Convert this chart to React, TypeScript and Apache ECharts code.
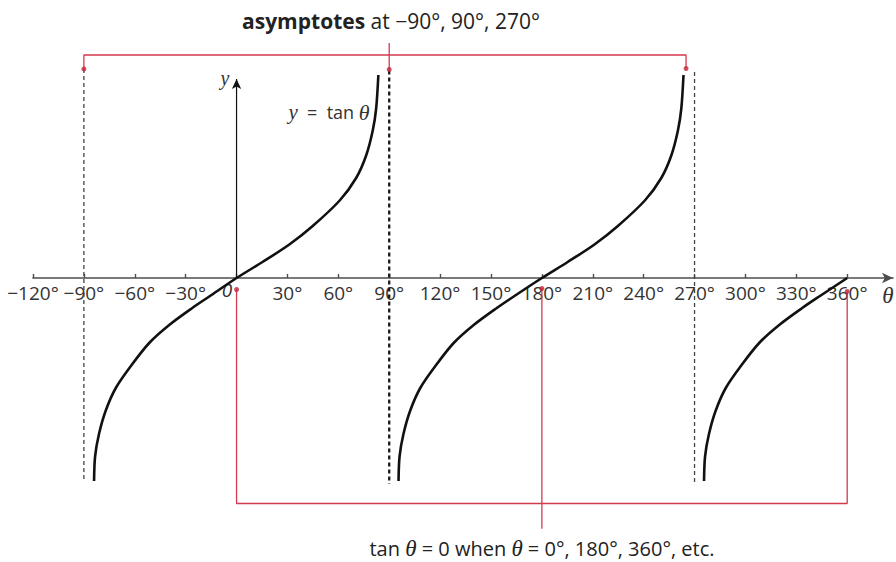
import React, { useEffect, useRef } from 'react';
import * as echarts from 'echarts';

// x axis ticks (degrees)
const tickValues = [-120, -90, -60, -30, 0, 30, 60, 90, 120, 150, 180, 210, 240, 270, 300, 330, 360];
const labelValues = [-120, -90, -60, -30, 30, 60, 90, 120, 150, 180, 210, 240, 270, 300, 330, 360];

// tan curve branches (y in drawing units)
const branch1Theta = [-84, -83.4, -81.1, -77.1, -71.2, -62.3, -51.5, -39.7, -26.1, -16.1, 0, 15.3, 31.1, 44.9, 60.8, 70.5, 76.4, 80.3, 82.3, 83.6];
const branch1Y = [-4.06, -3.57, -3.12, -2.65, -2.2, -1.76, -1.3, -0.94, -0.6, -0.37, 0, 0.32, 0.67, 1.04, 1.55, 2.0, 2.45, 2.95, 3.39, 4.06];
const branch2Theta = [95.5, 96.1, 98.4, 102.4, 108.3, 117.2, 128, 139.8, 153.4, 163.4, 180, 195.2, 211, 224.8, 240.7, 250.4, 256.3, 260.2, 262.2, 263.5];
const branch2Y = [-4.06, -3.57, -3.12, -2.65, -2.2, -1.76, -1.3, -0.94, -0.6, -0.37, 0, 0.32, 0.67, 1.04, 1.55, 2.0, 2.45, 2.95, 3.39, 4.06];
const branch3Theta = [275.6, 276.2, 278.5, 282.5, 288.4, 297.3, 308.1, 319.9, 333.5, 343.5, 360];
const branch3Y = [-4.06, -3.57, -3.12, -2.65, -2.2, -1.76, -1.3, -0.94, -0.6, -0.37, 0];

// asymptotes
const asymptoteTheta = [-90, 90, 270];
const asymptoteTop = [4.18, 4.15, 4.12];
const asymptoteBottom = [-4.08, -4.12, -4.08];

// y axis (positive half only)
const yAxisTheta = [0, 0];
const yAxisY = [0, 3.98];

// red annotation brackets
const topBracketTheta = [-90, -90, 265, 265];
const topBracketY = [4.18, 4.46, 4.46, 4.19];
const topStemTheta = [90, 90];
const topStemY = [4.7, 4.17];
const topDotsTheta = [-90, 90, 265];
const topDotsY = [4.18, 4.17, 4.19];

const bottomBracketTheta = [0, 0, 360, 360];
const bottomBracketY = [-0.23, -4.51, -4.51, -0.27];
const bottomStemTheta = [180, 180];
const bottomStemY = [-0.21, -5.09];
const bottomDotsTheta = [0, 180, 360];
const bottomDotsY = [-0.23, -0.21, -0.27];

const pairs = (xs: number[], ys: number[]) => xs.map((x, i) => [x, ys[i]]);

const SANS = '"Open Sans", "Noto Sans", sans-serif';
const SERIF = '"Liberation Serif", "DejaVu Serif", serif';
const RED = '#d43a4e';
const RED_DOT = '#c4243a';

export default function App() {
  const ref = useRef<HTMLDivElement>(null);

  useEffect(() => {
    if (!ref.current) return;
    const chart = echarts.init(ref.current, undefined, { renderer: 'svg' });

    const curveStyle = { color: '#111', width: 2.6 };
    const redLine = (name: string, xs: number[], ys: number[]) => ({
      type: 'line', name, data: pairs(xs, ys), symbol: 'none', z: 5,
      lineStyle: { color: RED, width: 1.3 }, silent: true,
    });

    const series: any[] = [];
    asymptoteTheta.forEach((t, i) => {
      series.push({
        type: 'line', name: 'asym' + i, symbol: 'none', z: 1, silent: true,
        data: [[t, asymptoteTop[i]], [t, asymptoteBottom[i]]],
        lineStyle: i === 1
          ? { color: '#1a1a1a', width: 2.3, type: [4, 3] }
          : { color: '#444', width: 1.3, type: [4, 3] },
      });
    });
    series.push({
      type: 'line', name: 'yaxis', z: 2, silent: true,
      data: [
        { value: [yAxisTheta[0], yAxisY[0]], symbol: 'none' },
        { value: [yAxisTheta[1], yAxisY[1]], symbol: 'arrow', symbolSize: [7, 10] },
      ],
      showSymbol: true,
      lineStyle: { color: '#111', width: 1.2 },
      itemStyle: { color: '#111' },
    });
    [[branch1Theta, branch1Y], [branch2Theta, branch2Y], [branch3Theta, branch3Y]].forEach((b, i) => {
      series.push({
        type: 'line', name: 'tan' + i, data: pairs(b[0], b[1]), symbol: 'none', z: 3,
        smooth: 0.3, lineStyle: curveStyle, silent: true,
      });
    });
    series.push(redLine('topBracket', topBracketTheta, topBracketY));
    series.push(redLine('topStem', topStemTheta, topStemY));
    series.push(redLine('bottomBracket', bottomBracketTheta, bottomBracketY));
    series.push(redLine('bottomStem', bottomStemTheta, bottomStemY));
    series.push({
      type: 'scatter', name: 'dots', z: 6, symbolSize: 5, silent: true,
      data: pairs(topDotsTheta, topDotsY).concat(pairs(bottomDotsTheta, bottomDotsY)),
      itemStyle: { color: RED_DOT },
    });

    chart.setOption({
      animation: false,
      backgroundColor: '#fff',
      grid: { left: 33, right: 3, top: 28, bottom: 34, containLabel: false },
      xAxis: {
        type: 'value', min: -120, max: 387, interval: 30,
        position: 'bottom', offset: -250,
        axisLine: {
          onZero: false, symbol: ['none', 'arrow'], symbolSize: [8, 11],
          lineStyle: { color: '#4d4d4d', width: 1.6 },
        },
        axisTick: { show: true, inside: true, length: 4, customValues: tickValues, lineStyle: { color: '#4d4d4d', width: 1.4 } },
        axisLabel: {
          customValues: labelValues, margin: 5, fontSize: 19, color: '#333', fontFamily: SANS,
          formatter: (v: number) => (v < 0 ? '\u2212' + Math.abs(v) : String(v)) + '\u00b0',
        },
        splitLine: { show: false },
      },
      yAxis: { type: 'value', min: -5, max: 5, show: false },
      graphic: [
        {
          type: 'text', x: 391, y: 21, z: 10,
          style: {
            text: '{b|asymptotes} at \u221290\u00b0, 90\u00b0, 270\u00b0',
            align: 'center', verticalAlign: 'middle', fontSize: 21, fontFamily: SANS, fill: '#222',
            rich: { b: { fontWeight: 'bold', fontSize: 21, fontFamily: SANS, fill: '#222' } },
          },
        },
        {
          type: 'text', x: 542, y: 548, z: 10,
          style: {
            text: '{t|tan }{th|\u03b8}{t| = 0 when }{th|\u03b8}{t| = 0\u00b0, 180\u00b0, 360\u00b0, etc.}',
            align: 'center', verticalAlign: 'middle', fontSize: 20, fontFamily: SANS, fill: '#222',
            rich: {
              t: { fontSize: 20, fontFamily: SANS, fill: '#222' },
              th: { fontSize: 23, fontFamily: SERIF, fontStyle: 'italic', fill: '#222' },
            },
          },
        },
        {
          type: 'text', x: 329, y: 112, z: 10,
          style: {
            text: '{i|y}{t|  =  tan }{th|\u03b8}',
            align: 'center', verticalAlign: 'middle', fontSize: 18, fontFamily: SANS, fill: '#333',
            rich: {
              i: { fontSize: 21, fontFamily: SERIF, fontStyle: 'italic', fill: '#333' },
              t: { fontSize: 18, fontFamily: SANS, fill: '#333' },
              th: { fontSize: 22, fontFamily: SERIF, fontStyle: 'italic', fill: '#333' },
            },
          },
        },
        {
          type: 'text', x: 225, y: 78, z: 10,
          style: { text: 'y', align: 'center', verticalAlign: 'middle', fontSize: 20, fontFamily: SERIF, fontStyle: 'italic', fill: '#333' },
        },
        {
          type: 'text', x: 888, y: 295, z: 10,
          style: { text: '\u03b8', align: 'center', verticalAlign: 'middle', fontSize: 23, fontFamily: SERIF, fontStyle: 'italic', fill: '#333' },
        },
        {
          type: 'text', x: 227, y: 290, z: 2,
          style: { text: '0', align: 'center', verticalAlign: 'middle', fontSize: 19, fontFamily: SANS, fontStyle: 'italic', fill: '#333' },
        },
      ],
      series,
    });

    return () => chart.dispose();
  }, []);

  return (
    <div
      ref={ref}
      style={{ position: 'fixed', left: 0, top: 0, width: 896, height: 562, background: '#fff' }}
    />
  );
}
